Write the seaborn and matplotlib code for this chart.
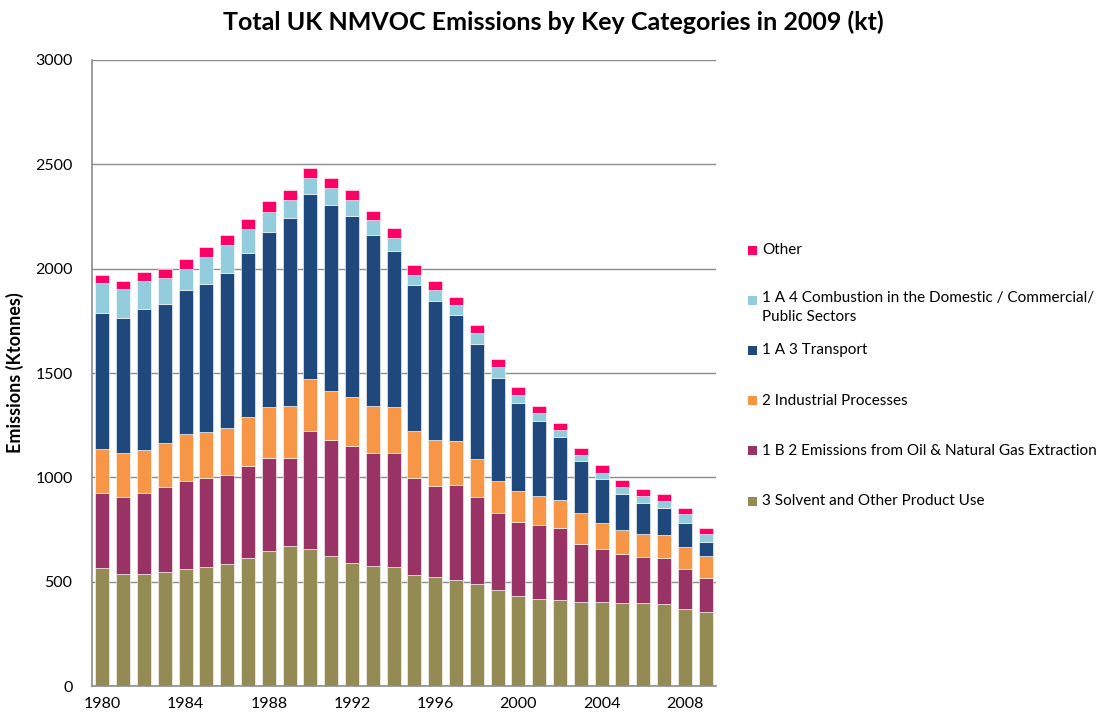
import matplotlib
matplotlib.use("Agg")
import matplotlib.pyplot as plt
from matplotlib.patches import Rectangle
from matplotlib.ticker import MultipleLocator
import seaborn as sns

years = [str(y) for y in range(1980, 2010)]

solvent = [564, 536, 536, 546, 559, 571, 583, 613, 647, 669,
           658, 623, 591, 576, 571, 532, 522, 506, 489, 460,
           431, 417, 410, 402, 402, 399, 396, 391, 370, 353]
oil_gas = [362, 371, 390, 406, 424, 424, 429, 442, 447, 425,
           565, 557, 560, 539, 544, 463, 435, 458, 415, 367,
           353, 356, 345, 280, 256, 232, 223, 221, 190, 166]
industrial = [209, 209, 206, 215, 224, 223, 225, 235, 244, 247,
              246, 236, 233, 228, 223, 229, 223, 210, 183, 155,
              150, 140, 136, 145, 121, 116, 109, 110, 106, 102]
transport = [653, 650, 674, 664, 690, 709, 743, 785, 838, 901,
             889, 891, 870, 816, 749, 698, 666, 602, 553, 493,
             423, 356, 302, 251, 211, 174, 150, 129, 116, 70]
domestic = [144, 136, 134, 125, 102, 129, 134, 115, 96, 86,
            75, 80, 75, 75, 62, 50, 51, 49, 51, 52,
            40, 39, 33, 30, 32, 32, 32, 35, 40, 39]
other = [40, 38, 42, 43, 45, 47, 46, 48, 50, 51,
         50, 46, 47, 44, 45, 45, 44, 41, 40, 39,
         37, 36, 35, 35, 35, 34, 32, 34, 29, 27]

series = [
    ("3 Solvent and Other Product Use", solvent, "#948A54"),
    ("1 B 2 Emissions from Oil & Natural Gas Extraction", oil_gas, "#993366"),
    ("2 Industrial Processes", industrial, "#F79646"),
    ("1 A 3 Transport", transport, "#1F497D"),
    ("1 A 4 Combustion in the Domestic / Commercial/\nPublic Sectors", domestic, "#93CDDD"),
    ("Other", other, "#FF0066"),
]

sns.set_style("white")
plt.rcParams["font.family"] = ["Lato", "DejaVu Sans"]
plt.rcParams["text.color"] = "black"
plt.rcParams["axes.labelcolor"] = "black"

fig = plt.figure(figsize=(11.06, 7.21), dpi=100)
ax = fig.add_axes([0.0832, 0.0485, 0.5642, 0.8683])

bottom = [0] * len(years)
for name, vals, color in series:
    sns.barplot(x=years, y=vals, bottom=bottom, color=color, width=0.68,
                edgecolor="white", linewidth=0.4, ax=ax, saturation=1)
    bottom = [b + v for b, v in zip(bottom, vals)]

ax.set_ylim(0, 3000)
ax.set_xlim(-0.5, len(years) - 0.5)
ax.yaxis.set_major_locator(MultipleLocator(500))
ax.yaxis.grid(True, color="#8c8c8c", linewidth=1.0)
ax.set_axisbelow(True)

ax.set_xticks(range(0, len(years), 4))
ax.set_xticklabels(years[::4], fontsize=11.5)
ax.set_xticks([i - 0.5 for i in range(len(years) + 1)], minor=True)
ax.tick_params(axis="x", which="major", length=0, pad=8, labelcolor="black")
ax.tick_params(axis="x", which="minor", length=5, color="#8c8c8c", direction="out")
ax.tick_params(axis="y", labelsize=11.5, length=0, pad=14, labelcolor="black")

for s in ["top", "right"]:
    ax.spines[s].set_visible(False)
for s in ["left", "bottom"]:
    ax.spines[s].set_color("#8c8c8c")
    ax.spines[s].set_linewidth(1.2)

ax.set_xlabel("")
ax.set_ylabel("Emissions (Ktonnes)", fontsize=13, fontweight="bold", labelpad=8)

fig.suptitle("Total UK NMVOC Emissions by Key Categories in 2009 (kt)",
             fontsize=18, fontweight="bold", x=0.5, y=0.985, color="black")

# legend, top entry = Other
for i, (name, vals, color) in enumerate(reversed(series)):
    yy = 1 - (250 + i * 50.2) / 721
    fig.patches.append(Rectangle((748 / 1106, yy - 4.5 / 721), 9 / 1106, 9 / 721,
                                 transform=fig.transFigure, facecolor=color,
                                 edgecolor="none"))
    if "\n" in name:
        fig.text(762 / 1106, yy + 9.5 / 721, name, fontsize=11, va="top",
                 ha="left", linespacing=1.5)
    else:
        fig.text(762 / 1106, yy, name, fontsize=11, va="center", ha="left")

fig.savefig("out.png", dpi=100)
